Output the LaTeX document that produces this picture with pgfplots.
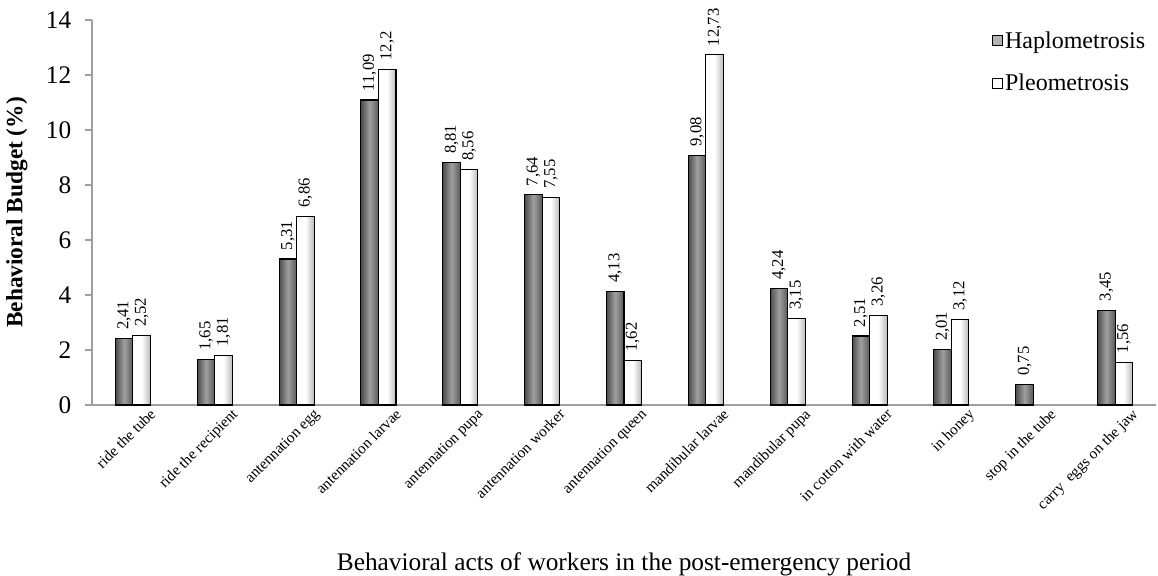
\documentclass[border=0pt]{standalone}
\usepackage{pgfplots}
\pgfplotsset{compat=1.18}
\usepackage{fontspec}
\setmainfont{Liberation Serif}
\newlength{\px}\setlength{\px}{0.75pt}
% one shaded bar per value (each bar gets its own horizontal shading)
\newcommand{\hb}[2]{\addplot[forget plot, ybar, bar width=0.214, bar shift=-0.107, draw=none,
  left color=gray!60!black, right color=gray!70!black, middle color=gray!75] coordinates {(#1,#2)};}
\newcommand{\pb}[2]{\addplot[forget plot, ybar, bar width=0.214, bar shift=0.107, draw=none,
  left color=white, right color=gray!55, middle color=white] coordinates {(#1,#2)};}
\begin{document}
\begin{tikzpicture}
\begin{axis}[
  name=ax,
  scale only axis,
  width=1064\px, height=385\px,
  ymin=0, ymax=14, ytick={0,2,...,14},
  xmin=-0.5, xmax=12.5,
  axis x line*=bottom, axis y line*=left,
  axis line style={gray!75, line width=1.5pt},
  yticklabel style={font=\fontsize{19}{21}\selectfont, xshift=-9\px},
  /pgf/number format/assume math mode=true,
  ytick style={gray!75, line width=1pt},
  tick align=outside, major tick length=7\px,
  xtick=data, xtick style={draw=none},
  xticklabels={ride the tube, ride the recipient, antennation egg, antennation larvae, antennation pupa, antennation worker, antennation queen, mandibular larvae, mandibular pupa, in cotton with water, in honey, stop in the tube, carry\ \ eggs on the jaw},
  xticklabel style={rotate=45, anchor=north east, font=\fontsize{11.5}{13}\selectfont, inner sep=1pt, yshift=-5pt, xshift=12pt},
  ylabel={\textbf{Behavioral Budget (\%)}},
  ylabel style={font=\fontsize{17.5}{19}\selectfont, yshift=7pt},
  xlabel={Behavioral acts of workers in the post-emergency period},
  xlabel style={font=\fontsize{19}{21}\selectfont, yshift=-25pt},
  /pgf/number format/.cd, use comma, fixed, precision=2,
  /pgfplots/.cd,
  legend style={at={(0.995,0.985)}, anchor=north east, draw=none, fill=none, font=\fontsize{18}{20}\selectfont, row sep=14pt, inner sep=2pt},
  legend cell align=left,
]
\hb{0}{2.41}\hb{1}{1.65}\hb{2}{5.31}\hb{3}{11.09}\hb{4}{8.81}\hb{5}{7.64}\hb{6}{4.13}
\hb{7}{9.08}\hb{8}{4.24}\hb{9}{2.51}\hb{10}{2.01}\hb{11}{0.75}\hb{12}{3.45}
\pb{0}{2.52}\pb{1}{1.81}\pb{2}{6.86}\pb{3}{12.2}\pb{4}{8.56}\pb{5}{7.55}\pb{6}{1.62}
\pb{7}{12.73}\pb{8}{3.15}\pb{9}{3.26}\pb{10}{3.12}\pb{12}{1.56}
\addplot[ybar, bar width=0.214, bar shift=-0.107, draw=black, line width=0.8pt, fill=none,
  nodes near coords,
  every node near coord/.append style={rotate=90, anchor=west, font=\fontsize{12.5}{14}\selectfont, inner sep=1pt, xshift=7\px, yshift=8.75\px},
  legend image code/.code={\draw[draw=black, line width=0.6pt, fill=gray!60] (0cm,-0.12cm) rectangle (0.25cm,0.14cm);}]
  coordinates {(0,2.41) (1,1.65) (2,5.31) (3,11.09) (4,8.81) (5,7.64) (6,4.13) (7,9.08) (8,4.24) (9,2.51) (10,2.01) (11,0.75) (12,3.45)};
\addplot[ybar, bar width=0.214, bar shift=0.107, draw=black, line width=0.8pt, fill=none,
  nodes near coords,
  every node near coord/.append style={rotate=90, anchor=west, font=\fontsize{12.5}{14}\selectfont, inner sep=1pt, xshift=7\px, yshift=-8.75\px},
  legend image code/.code={\draw[draw=black, line width=0.6pt, fill=white] (0cm,-0.12cm) rectangle (0.25cm,0.14cm);}]
  coordinates {(0,2.52) (1,1.81) (2,6.86) (3,12.2) (4,8.56) (5,7.55) (6,1.62) (7,12.73) (8,3.15) (9,3.26) (10,3.12) (12,1.56)};
\legend{Haplometrosis, Pleometrosis}
\end{axis}
\pgfresetboundingbox
\path (ax.south west) ++(-92\px,-170\px) coordinate (bl);
\path (ax.north east) ++(2\px,20\px) coordinate (tr);
\useasboundingbox (bl) rectangle (tr);
\end{tikzpicture}
\end{document}
